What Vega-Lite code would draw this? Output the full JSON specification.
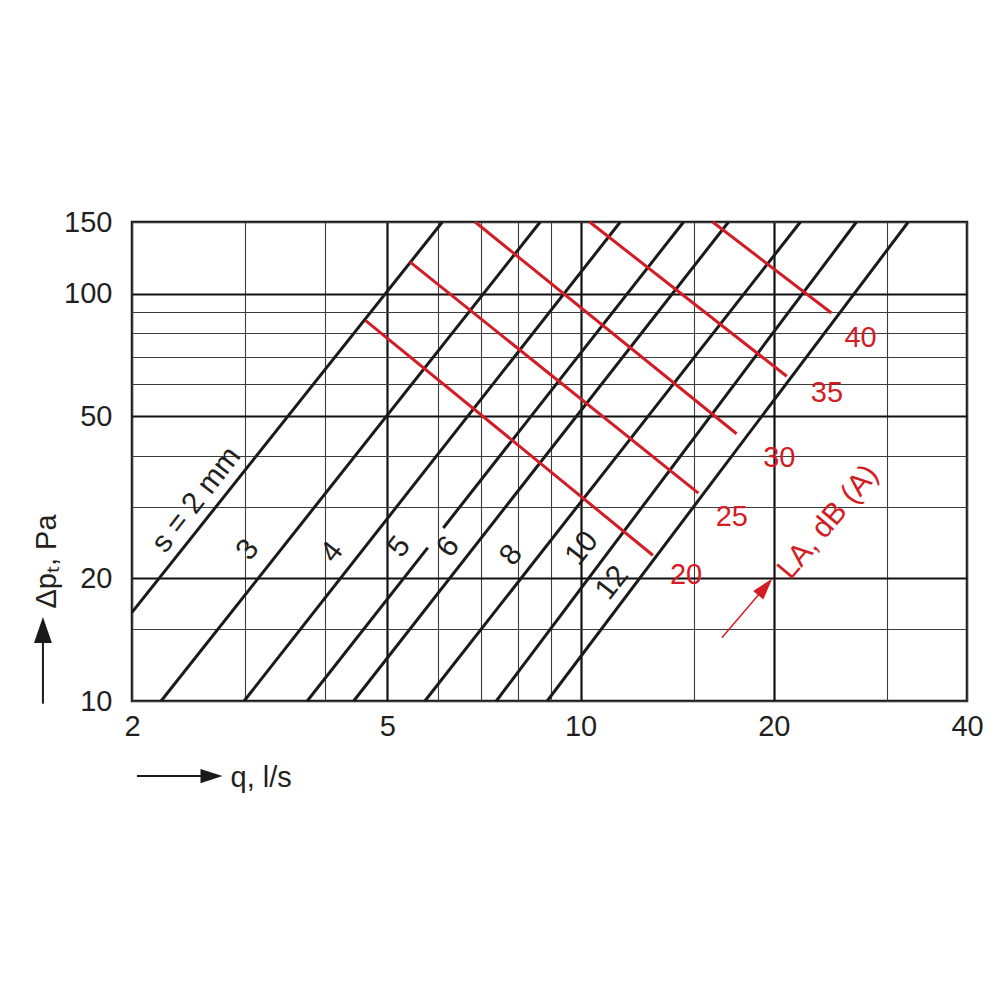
{
  "$schema": "https://vega.github.io/schema/vega-lite/v6.json",
  "autosize": {"type": "none"},
  "padding": {"left": 132, "top": 222, "right": 33, "bottom": 299},
  "width": 835,
  "height": 479,
  "background": "#ffffff",
  "config": {
    "view": {"stroke": "#1a1a1a", "strokeWidth": 2.5},
    "font": "Liberation Sans",
    "text": {"font": "Liberation Sans", "fontSize": 29},
    "axis": {"labelFont": "Liberation Sans", "titleFont": "Liberation Sans"}
  },
  "datasets": {
    "sizes": [
      {"seg": "2", "q": 2.0, "dp": 16.5},
      {"seg": "2", "q": 6.09, "dp": 150},
      {"seg": "3", "q": 2.22, "dp": 10},
      {"seg": "3", "q": 8.65, "dp": 150},
      {"seg": "4", "q": 2.99, "dp": 10},
      {"seg": "4", "q": 11.53, "dp": 150},
      {"seg": "5a", "q": 3.75, "dp": 10},
      {"seg": "5a", "q": 5.78, "dp": 23.8},
      {"seg": "5b", "q": 6.11, "dp": 26.6},
      {"seg": "5b", "q": 14.47, "dp": 150},
      {"seg": "6", "q": 4.43, "dp": 10},
      {"seg": "6", "q": 17.0, "dp": 150},
      {"seg": "8", "q": 5.72, "dp": 10},
      {"seg": "8", "q": 22.0, "dp": 150},
      {"seg": "10", "q": 7.39, "dp": 10},
      {"seg": "10", "q": 26.9, "dp": 150},
      {"seg": "12", "q": 8.87, "dp": 10},
      {"seg": "12", "q": 32.4, "dp": 150}
    ],
    "levels": [
      {"la": "20", "q": 4.62, "dp": 86.0},
      {"la": "20", "q": 12.96, "dp": 22.8},
      {"la": "25", "q": 5.42, "dp": 119.7},
      {"la": "25", "q": 15.26, "dp": 32.4},
      {"la": "30", "q": 6.85, "dp": 150},
      {"la": "30", "q": 17.5, "dp": 45.3},
      {"la": "35", "q": 10.33, "dp": 150},
      {"la": "35", "q": 20.95, "dp": 62.7},
      {"la": "40", "q": 16.06, "dp": 150},
      {"la": "40", "q": 24.6, "dp": 89.7}
    ],
    "sizeLabels": [
      {"t": "s = 2 mm", "q": 2.52, "dp": 31.2},
      {"t": "3", "q": 3.03, "dp": 23.5},
      {"t": "4", "q": 4.10, "dp": 23.2},
      {"t": "5", "q": 5.22, "dp": 23.9},
      {"t": "6", "q": 6.22, "dp": 23.9},
      {"t": "8", "q": 7.80, "dp": 22.8},
      {"t": "10", "q": 10.05, "dp": 23.7},
      {"t": "12", "q": 11.2, "dp": 19.5}
    ],
    "levelLabels": [
      {"t": "20", "q": 14.6, "dp": 20.35},
      {"t": "25", "q": 17.2, "dp": 28.3},
      {"t": "30", "q": 20.4, "dp": 39.5},
      {"t": "35", "q": 24.2, "dp": 57.0},
      {"t": "40", "q": 27.3, "dp": 77.9}
    ],
    "laTitle": [
      {"t": "LA, dB (A)", "q": 24.3, "dp": 27.5}
    ],
    "axisArrows": [
      {"q": 1.453, "dp": 9.85, "q2": 1.453, "dp2": 14.94},
      {"q": 2.036, "dp": 6.54, "q2": 2.66, "dp2": 6.54}
    ],
    "yHead": [{"q": 1.453, "dp": 14.94}],
    "xHead": [{"q": 2.66, "dp": 6.54}],
    "laArrow": [{"q": 16.6, "dp": 14.3, "q2": 19.4, "dp2": 19.07}],
    "laHead": [{"q": 19.4, "dp": 19.07}]
  },
  "layer": [
    {
      "data": {"name": "sizes"},
      "mark": {"type": "line", "color": "#1a1a1a", "strokeWidth": 3, "strokeCap": "butt"},
      "encoding": {
        "x": {
          "field": "q", "type": "quantitative",
          "scale": {"type": "log", "domain": [2, 40], "nice": false},
          "axis": {
            "title": "q, l/s",
            "values": [2, 3, 4, 5, 6, 7, 8, 9, 10, 15, 20, 30, 40],
            "grid": true,
            "gridColor": {"condition": {"test": "indexof([5,10,20], datum.value) >= 0", "value": "#111111"}, "value": "#3c3c3c"},
            "gridWidth": {"condition": {"test": "indexof([5,10,20], datum.value) >= 0", "value": 2.2}, "value": 1.1},
            "ticks": false,
            "domain": false,
            "labelExpr": "indexof([2,5,10,20,40], datum.value) >= 0 ? toString(datum.value) : ''",
            "labelFontSize": 29,
            "labelColor": "#231f20",
            "labelPadding": 11,
            "labelFlush": false,
            "labelOverlap": false,
            "labelBound": false,
            "titleFontSize": 29,
            "titleFontWeight": "normal",
            "titleColor": "#231f20",
            "titleX": 98,
            "titleY": 76,
            "titleAlign": "left",
            "titleBaseline": "middle"
          }
        },
        "y": {
          "field": "dp", "type": "quantitative",
          "scale": {"type": "log", "domain": [10, 150], "nice": false},
          "axis": {
            "title": "Δpₜ, Pa",
            "values": [10, 15, 20, 30, 40, 50, 60, 70, 80, 90, 100, 150],
            "grid": true,
            "gridColor": {"condition": {"test": "indexof([20,50,100], datum.value) >= 0", "value": "#111111"}, "value": "#3c3c3c"},
            "gridWidth": {"condition": {"test": "indexof([20,50,100], datum.value) >= 0", "value": 2.2}, "value": 1.1},
            "ticks": false,
            "domain": false,
            "labelExpr": "indexof([10,20,50,100,150], datum.value) >= 0 ? toString(datum.value) : ''",
            "labelFontSize": 29,
            "labelColor": "#231f20",
            "labelPadding": 20,
            "labelFlush": false,
            "labelOverlap": false,
            "labelBound": false,
            "titleFontSize": 29,
            "titleFontWeight": "normal",
            "titleColor": "#231f20",
            "titleX": -86,
            "titleY": 339,
            "titleAngle": 270,
            "titleAlign": "center",
            "titleBaseline": "middle"
          }
        },
        "detail": {"field": "seg"}
      }
    },
    {
      "data": {"name": "levels"},
      "mark": {"type": "line", "color": "#d41c24", "strokeWidth": 3, "strokeCap": "butt"},
      "encoding": {
        "x": {"field": "q", "type": "quantitative"},
        "y": {"field": "dp", "type": "quantitative"},
        "detail": {"field": "la"}
      }
    },
    {
      "data": {"name": "sizeLabels"},
      "mark": {"type": "text", "angle": 308, "align": "center", "baseline": "middle", "fontSize": 30, "color": "#231f20"},
      "encoding": {
        "x": {"field": "q", "type": "quantitative"},
        "y": {"field": "dp", "type": "quantitative"},
        "text": {"field": "t"}
      }
    },
    {
      "data": {"name": "levelLabels"},
      "mark": {"type": "text", "align": "center", "baseline": "middle", "fontSize": 29, "color": "#d41c24"},
      "encoding": {
        "x": {"field": "q", "type": "quantitative"},
        "y": {"field": "dp", "type": "quantitative"},
        "text": {"field": "t"}
      }
    },
    {
      "data": {"name": "laTitle"},
      "mark": {"type": "text", "angle": 310, "align": "center", "baseline": "middle", "fontSize": 30, "color": "#d41c24"},
      "encoding": {
        "x": {"field": "q", "type": "quantitative"},
        "y": {"field": "dp", "type": "quantitative"},
        "text": {"field": "t"}
      }
    },
    {
      "data": {"name": "axisArrows"},
      "mark": {"type": "rule", "color": "#1a1a1a", "strokeWidth": 2},
      "encoding": {
        "x": {"field": "q", "type": "quantitative"},
        "y": {"field": "dp", "type": "quantitative"},
        "x2": {"field": "q2"},
        "y2": {"field": "dp2"}
      }
    },
    {
      "data": {"name": "yHead"},
      "mark": {"type": "point", "shape": "M0,-1L0.69,1L-0.69,1Z", "size": 676, "filled": true, "color": "#1a1a1a", "opacity": 1, "strokeWidth": 0},
      "encoding": {
        "x": {"field": "q", "type": "quantitative"},
        "y": {"field": "dp", "type": "quantitative"}
      }
    },
    {
      "data": {"name": "xHead"},
      "mark": {"type": "point", "shape": "M0,-1L0.64,1L-0.64,1Z", "angle": 90, "size": 484, "filled": true, "color": "#1a1a1a", "opacity": 1, "strokeWidth": 0},
      "encoding": {
        "x": {"field": "q", "type": "quantitative"},
        "y": {"field": "dp", "type": "quantitative"}
      }
    },
    {
      "data": {"name": "laArrow"},
      "mark": {"type": "rule", "color": "#d41c24", "strokeWidth": 1.5},
      "encoding": {
        "x": {"field": "q", "type": "quantitative"},
        "y": {"field": "dp", "type": "quantitative"},
        "x2": {"field": "q2"},
        "y2": {"field": "dp2"}
      }
    },
    {
      "data": {"name": "laHead"},
      "mark": {"type": "point", "shape": "M0,-1L0.6,1L-0.6,1Z", "angle": 40, "size": 484, "filled": true, "color": "#d41c24", "opacity": 1, "strokeWidth": 0},
      "encoding": {
        "x": {"field": "q", "type": "quantitative"},
        "y": {"field": "dp", "type": "quantitative"}
      }
    }
  ]
}
